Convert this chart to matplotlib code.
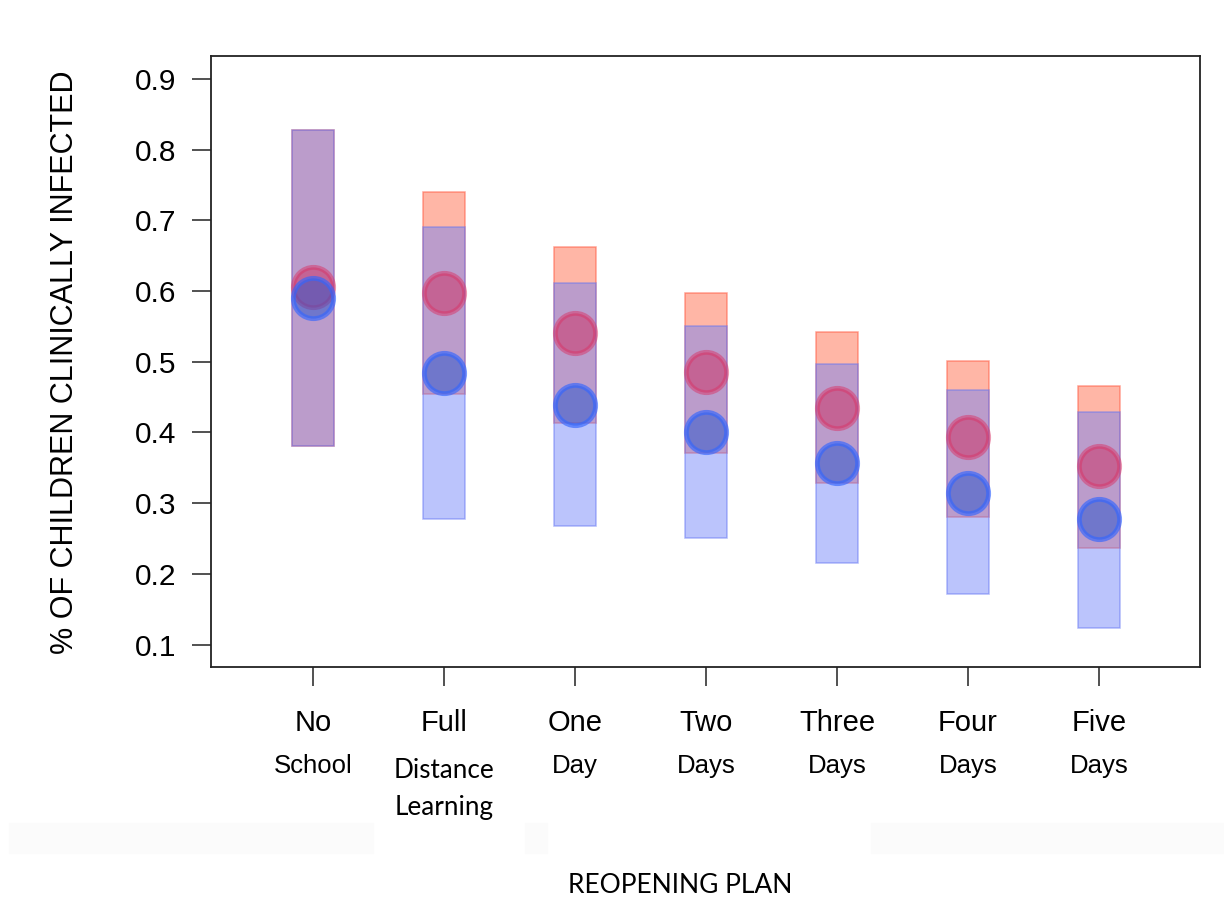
import matplotlib.pyplot as plt
import matplotlib.transforms as mtransforms
from matplotlib.patches import Rectangle

# data
plans_top = ["No", "Full", "One", "Two", "Three", "Four", "Five"]
plans_bottom = ["School", "", "Day", "Days", "Days", "Days", "Days"]

red_hi = [0.828, 0.740, 0.663, 0.597, 0.542, 0.501, 0.465]
red_lo = [0.381, 0.455, 0.414, 0.371, 0.328, 0.281, 0.237]
red_mid = [0.606, 0.597, 0.540, 0.486, 0.435, 0.393, 0.352]

blue_hi = [0.828, 0.691, 0.612, 0.550, 0.497, 0.460, 0.429]
blue_lo = [0.381, 0.278, 0.267, 0.250, 0.216, 0.171, 0.124]
blue_mid = [0.590, 0.484, 0.439, 0.401, 0.357, 0.315, 0.277]

y_ticks = [0.1, 0.2, 0.3, 0.4, 0.5, 0.6, 0.7, 0.8, 0.9]

x = list(range(1, len(plans_top) + 1))

plt.rcParams['font.family'] = ['Liberation Sans', 'DejaVu Sans']

fig = plt.figure(figsize=(12.24, 9.22), dpi=100)
ax = fig.add_axes([211 / 1224, 1 - 667 / 922, 989 / 1224, 611 / 922])

# faint grey band left over from the pasted labels
for x0, x1 in [(9, 373), (525, 547), (871, 1224)]:
    fig.patches.append(Rectangle((x0 / 1224, 1 - 853 / 922), (x1 - x0) / 1224, 30 / 922,
                                 transform=fig.transFigure, color="#fbfbfb", zorder=0))

red_face = (1.0, 0.43, 0.31, 0.5)
red_edge = (1.0, 0.35, 0.25, 0.55)
blue_face = (0.41, 0.49, 0.98, 0.45)
blue_edge = (0.38, 0.45, 0.95, 0.5)

red_h = [h - l for h, l in zip(red_hi, red_lo)]
blue_h = [h - l for h, l in zip(blue_hi, blue_lo)]
ax.bar(x, red_h, bottom=red_lo, width=0.32, color=red_face, edgecolor=red_edge, linewidth=1.1, zorder=2)
ax.bar(x, blue_h, bottom=blue_lo, width=0.32, color=blue_face, edgecolor=blue_edge, linewidth=1.1, zorder=3)

ax.plot(x, red_mid, "o", ls="none", ms=29, mfc=(0.82, 0.13, 0.33, 0.45),
        mec=(0.85, 0.2, 0.4, 0.5), mew=3.5, zorder=4)
ax.plot(x, blue_mid, "o", ls="none", ms=29, mfc=(0.15, 0.33, 0.8, 0.5),
        mec=(0.2, 0.4, 1.0, 0.65), mew=3.5, zorder=5)

ax.set_xlim(0.221, 7.771)
ax.set_ylim(0.0682, 0.9325)
ax.set_yticks(y_ticks)
ax.set_yticklabels([str(t) for t in y_ticks], fontsize=21.5)
ax.set_xticks(x)
ax.set_xticklabels([])
ax.tick_params(axis="both", direction="out", length=14, width=1.1, color="#222222")
ax.tick_params(axis="y", pad=11)
for s in ax.spines.values():
    s.set_linewidth(1.3)
    s.set_color("#222222")

trans = mtransforms.blended_transform_factory(ax.transData, fig.transFigure)
for xi, top, bot in zip(x, plans_top, plans_bottom):
    ax.text(xi, 1 - 723 / 922, top, transform=trans, ha="center", va="center", fontsize=21)
    if bot:
        ax.text(xi, 1 - 766 / 922, bot, transform=trans, ha="center", va="center", fontsize=18.5)
ax.text(2, 1 - 770 / 922, "Distance", transform=trans, ha="center", va="center",
        fontsize=18.8, family="Lato")
ax.text(2, 1 - 807 / 922, "Learning", transform=trans, ha="center", va="center",
        fontsize=18.8, family="Lato")

fig.text(680 / 1224, 1 - 885 / 922, "REOPENING PLAN", ha="center", va="center",
         fontsize=19, family="Lato")
fig.text(65 / 1224, 1 - 362 / 922, "% OF CHILDREN CLINICALLY INFECTED", rotation=90,
         ha="center", va="center", fontsize=22)

fig.savefig("out.png", dpi=100)
